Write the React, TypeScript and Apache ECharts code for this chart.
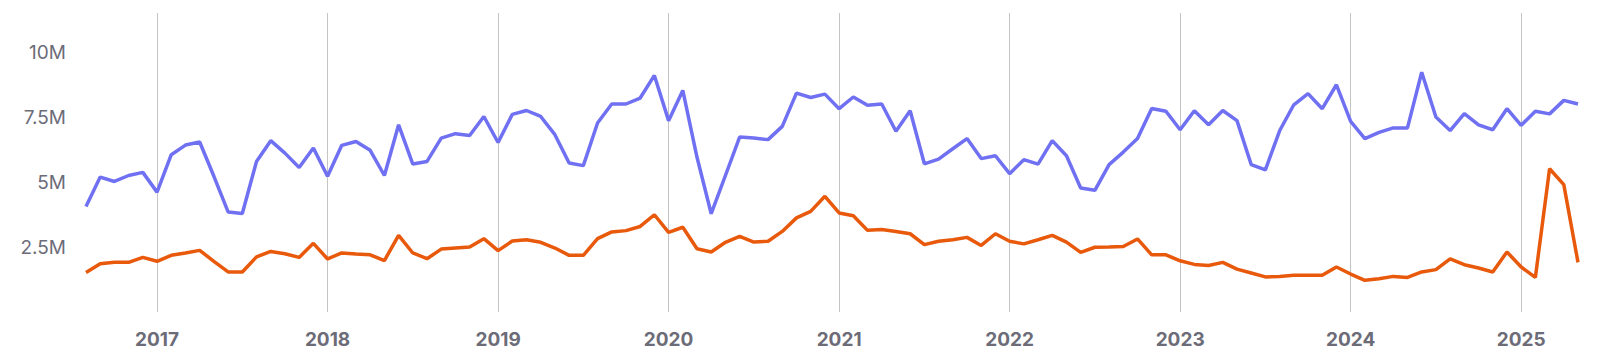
import React, { useEffect, useRef } from "react";
import * as echarts from "echarts";

// Monthly categories: Aug 2016 .. May 2025
const startYear = 2016;
const startMonth = 8;
const monthCount = 106;
const categories: string[] = [];
for (let k = 0; k < monthCount; k++) {
  const m = startMonth - 1 + k;
  const y = startYear + Math.floor(m / 12);
  const mm = (m % 12) + 1;
  categories.push(`${y}-${mm < 10 ? "0" + mm : mm}`);
}

// values in millions
const blueSeries = [
  4.06, 5.19, 5.02, 5.25, 5.37,
  4.61, 6.05, 6.42, 6.54, 5.22, 3.85, 3.79, 5.79, 6.59, 6.11, 5.56, 6.31,
  5.22, 6.41, 6.56, 6.22, 5.25, 7.2, 5.69, 5.79, 6.69, 6.86, 6.79, 7.52,
  6.52, 7.6, 7.75, 7.52, 6.82, 5.73, 5.63, 7.27, 8.0, 8.0, 8.23, 9.1,
  7.36, 8.52, 5.95, 3.78, 5.25, 6.73, 6.69, 6.63, 7.14, 8.42, 8.25, 8.38,
  7.82, 8.27, 7.95, 8.0, 6.95, 7.74, 5.7, 5.88, 6.28, 6.67, 5.9, 6.01,
  5.32, 5.86, 5.69, 6.59, 6.01, 4.77, 4.68, 5.67, 6.15, 6.67, 7.83, 7.72,
  7.01, 7.74, 7.2, 7.75, 7.36, 5.67, 5.47, 6.97, 7.97, 8.4, 7.82, 8.74,
  7.33, 6.67, 6.91, 7.08, 7.08, 9.22, 7.5, 6.98, 7.63, 7.2, 7.01, 7.82,
  7.18, 7.72, 7.62, 8.14, 8.0,
];

const orangeSeries = [
  1.52, 1.86, 1.91, 1.91, 2.1,
  1.95, 2.18, 2.27, 2.37, 1.95, 1.54, 1.54, 2.12, 2.33, 2.24, 2.1, 2.64,
  2.04, 2.27, 2.23, 2.2, 1.98, 2.95, 2.27, 2.05, 2.42, 2.46, 2.5, 2.82,
  2.36, 2.73, 2.78, 2.68, 2.46, 2.18, 2.18, 2.82, 3.08, 3.13, 3.29, 3.74,
  3.06, 3.26, 2.43, 2.31, 2.68, 2.91, 2.69, 2.72, 3.1, 3.62, 3.87, 4.45,
  3.81, 3.7, 3.14, 3.17, 3.1, 3.01, 2.59, 2.72, 2.78, 2.87, 2.56, 3.01,
  2.72, 2.62, 2.78, 2.95, 2.69, 2.29, 2.49, 2.5, 2.52, 2.81, 2.2, 2.2,
  1.97, 1.83, 1.79, 1.91, 1.65, 1.5, 1.35, 1.37, 1.41, 1.41, 1.41, 1.73,
  1.46, 1.22, 1.28, 1.37, 1.33, 1.54, 1.63, 2.04, 1.82, 1.69, 1.54, 2.31,
  1.73, 1.33, 5.51, 4.9, 1.91,
];

const yTickLabels = [2.5, 5, 7.5, 10];

const isJanuary = (idx: number) => categories[idx].endsWith("-01");

export default function App() {
  const ref = useRef<HTMLDivElement>(null);
  useEffect(() => {
    if (!ref.current) return;
    const chart = echarts.init(ref.current, null, { renderer: "svg" });
    chart.setOption({
      animation: false,
      backgroundColor: "#ffffff",
      grid: { left: 86, right: 20, top: 13, bottom: 52, containLabel: false },
      xAxis: {
        type: "category",
        data: categories,
        boundaryGap: false,
        axisLine: { show: false },
        axisTick: { show: false },
        axisLabel: {
          interval: (idx: number) => isJanuary(idx),
          formatter: (v: string) => v.slice(0, 4),
          color: "#6c6c78",
          fontFamily: "Inter",
          fontWeight: "bold",
          fontSize: 19,
          margin: 18,
        },
        splitLine: {
          show: true,
          interval: (idx: number) => isJanuary(idx),
          lineStyle: { color: "#c4c4c4", width: 1 },
        },
      },
      yAxis: {
        type: "value",
        min: 0,
        max: 11.5,
        interval: 2.5,
        axisLine: { show: false },
        axisTick: { show: false },
        splitLine: { show: false },
        axisLabel: {
          color: "#6c6c78",
          fontFamily: "Inter",
          fontSize: 19,
          margin: 20,
          formatter: (v: number) =>
            yTickLabels.indexOf(v) >= 0 ? `${v}M` : "",
        },
      },
      series: [
        {
          name: "Blue",
          type: "line",
          data: blueSeries,
          symbol: "none",
          lineStyle: { color: "#7070f2", width: 3.5 },
          itemStyle: { color: "#7070f2" },
        },
        {
          name: "Orange",
          type: "line",
          data: orangeSeries,
          symbol: "none",
          lineStyle: { color: "#e8590c", width: 3.5 },
          itemStyle: { color: "#e8590c" },
        },
      ],
    });
    return () => chart.dispose();
  }, []);
  return (
    <div
      ref={ref}
      style={{ position: "fixed", left: 0, top: 0, width: 1598, height: 364 }}
    />
  );
}
